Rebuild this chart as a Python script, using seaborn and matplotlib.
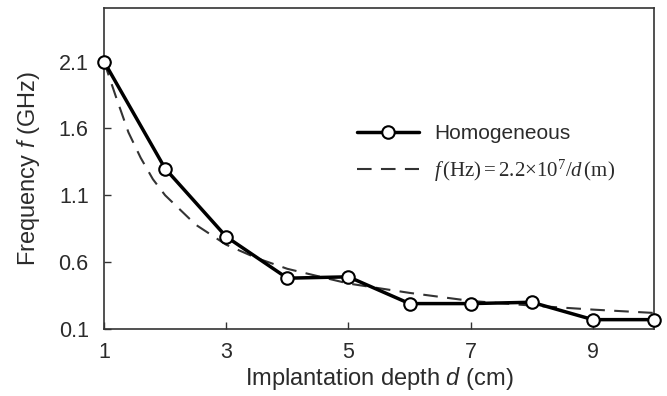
import matplotlib
matplotlib.use("Agg")
import matplotlib.pyplot as plt
import seaborn as sns
import pandas as pd

# Data
depth_cm = [1, 2, 3, 4, 5, 6, 7, 8, 9, 10]
freq_homogeneous = [2.10, 1.30, 0.79, 0.48, 0.49, 0.29, 0.29, 0.30, 0.17, 0.17]

fit_depth = [1.0, 1.2, 1.4, 1.6, 1.8, 2.0, 2.5, 3.0, 3.5, 4.0, 5.0, 6.0, 7.0, 8.0, 9.0, 10.0]
fit_freq = [2.10, 1.83, 1.57, 1.38, 1.22, 1.10, 0.88, 0.73, 0.63, 0.55, 0.44, 0.37, 0.31, 0.275, 0.245, 0.22]

x_ticks = [1, 3, 5, 7, 9]
y_ticks = [0.1, 0.6, 1.1, 1.6, 2.1]

sns.set_style("ticks")
plt.rcParams["font.family"] = ["Liberation Sans", "DejaVu Sans"]
plt.rcParams["mathtext.fontset"] = "custom"
plt.rcParams["mathtext.rm"] = "Liberation Serif"
plt.rcParams["mathtext.it"] = "Liberation Serif:italic"
plt.rcParams["mathtext.sf"] = "Liberation Sans:italic"

text_color = "#2b2b2b"

fig = plt.figure(figsize=(6.67, 3.96), dpi=100)
ax = fig.add_axes([104 / 667, 1 - 329 / 396, (654 - 104) / 667, (329 - 8) / 396])

df_h = pd.DataFrame({"d": depth_cm, "f": freq_homogeneous})
df_fit = pd.DataFrame({"d": fit_depth, "f": fit_freq})

sns.lineplot(data=df_fit, x="d", y="f", ax=ax, color="#333333", linewidth=1.5,
             linestyle=(0, (7, 4.5)),
             label=r"$f\,(\mathrm{Hz}) = 2.2{\times}10^{7}/d\,(\mathrm{m})$",
             zorder=2)
sns.lineplot(data=df_h, x="d", y="f", ax=ax, color="black", linewidth=2.5,
             marker="o", markersize=9, markerfacecolor="white", markeredgecolor="black",
             markeredgewidth=1.5, label="Homogeneous", zorder=3, clip_on=False)

ax.set_xlim(1, 10)
ax.set_ylim(0.1, 2.5)
ax.set_xticks(x_ticks)
ax.set_yticks(y_ticks)
ax.set_yticklabels([f"{v:.1f}" for v in y_ticks])
ax.tick_params(direction="in", length=5, width=1, colors="#333333", labelcolor=text_color,
               labelsize=15.5, top=False, right=False)
ax.tick_params(axis="x", pad=9)
ax.tick_params(axis="y", pad=11)
for s in ax.spines.values():
    s.set_color("#333333")
    s.set_linewidth(1.2)

ax.set_xlabel(r"Implantation depth $\mathsf{d}$ (cm)", fontsize=17, color=text_color, labelpad=2)
ax.set_ylabel(r"Frequency $\mathsf{f}$ (GHz)", fontsize=17, color=text_color, labelpad=12)

handles, labels = ax.get_legend_handles_labels()
order = [labels.index("Homogeneous"), 1 - labels.index("Homogeneous")]
leg = ax.legend([handles[i] for i in order], [labels[i] for i in order],
                loc="upper left", bbox_to_anchor=(357 / 667, 1 - 124 / 396),
                bbox_transform=fig.transFigure, frameon=False, fontsize=15,
                handlelength=3.0, handletextpad=0.7, labelspacing=0.7,
                borderpad=0, borderaxespad=0)
for t in leg.get_texts():
    t.set_color(text_color)

fig.savefig("out.png", dpi=100)
